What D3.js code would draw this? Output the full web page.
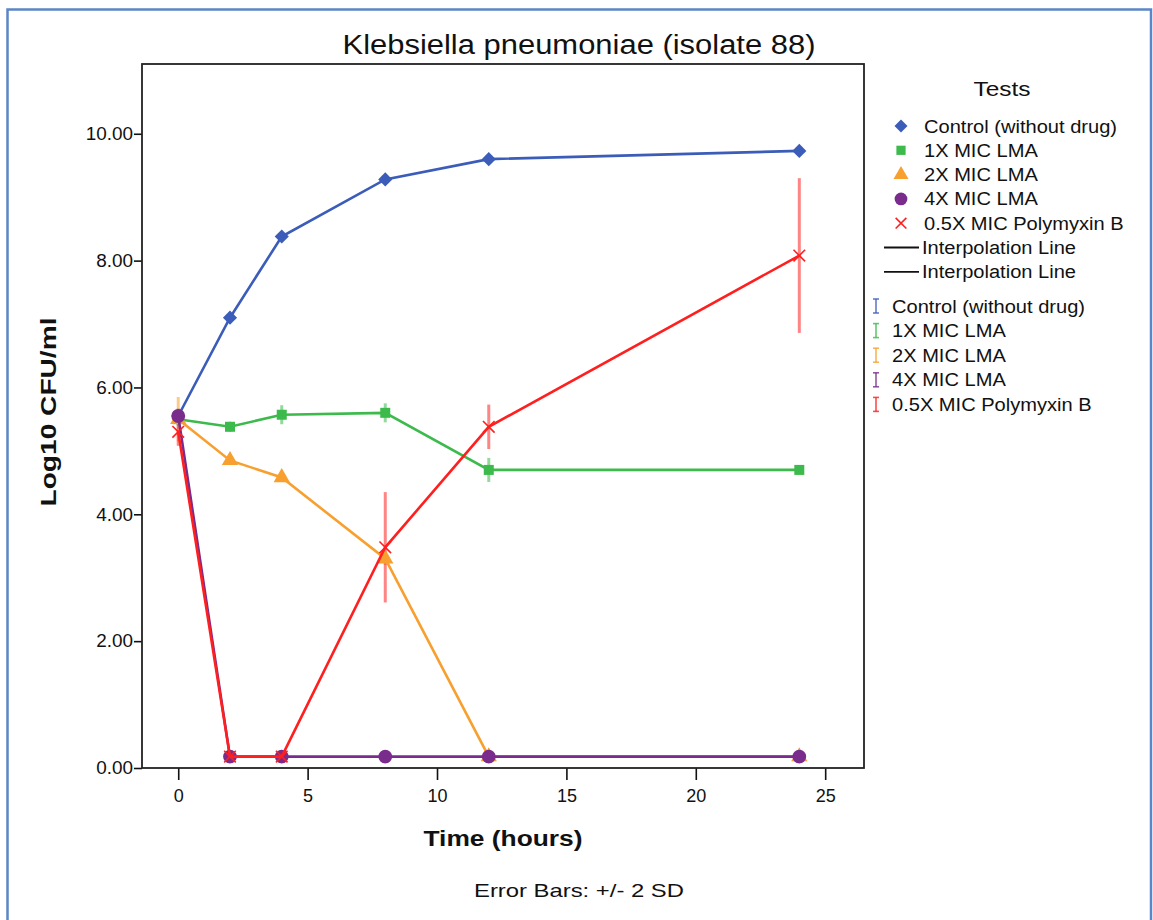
<!DOCTYPE html>
<html>
<head>
<meta charset="utf-8">
<script src="https://cdn.jsdelivr.net/npm/d3@7"></script>
<style>
  body { margin: 0; background: #fff; }
  text { font-family: "Liberation Sans", Arial, sans-serif; fill: #111; }
</style>
</head>
<body>
<div id="chart"></div>
<script>
let w = 1153;
let h = 920;

// hours sampled
let times = [0, 2, 4, 8, 12, 24];

// series names (legend order)
let seriesNames = ["Control (without drug)", "1X MIC LMA", "2X MIC LMA", "4X MIC LMA", "0.5X MIC Polymyxin B"];

// mean log10 CFU/ml per series
let controlVals = [5.55, 7.10, 8.38, 9.28, 9.60, 9.73];
let mic1Vals    = [5.50, 5.38, 5.57, 5.60, 4.70, 4.70];
let mic2Vals    = [5.50, 4.85, 4.58, 3.30, 0.18, 0.18];
let mic4Vals    = [5.55, 0.18, 0.18, 0.18, 0.18, 0.18];
let polyVals    = [5.30, 0.18, 0.18, 3.48, 5.38, 8.08];

// 2 SD half-widths
let controlErr = [0.12, 0.04, 0.04, 0.04, 0.04, 0.04];
let mic1Err    = [0.10, 0.08, 0.15, 0.15, 0.19, 0.05];
let mic2Err    = [0.35, 0.06, 0.06, 0.10, 0.00, 0.00];
let mic4Err    = [0.10, 0.00, 0.00, 0.00, 0.00, 0.00];
let polyErr    = [0.22, 0.00, 0.00, 0.87, 0.35, 1.22];

let yTicks = [0, 2, 4, 6, 8, 10];
let xTicks = [0, 5, 10, 15, 20, 25];

let colors = ["#3b5cb8", "#3cba4b", "#f7a030", "#7a2c8c", "#ff1f1f"];
let shapes = ["diamond", "square", "triangle", "circle", "x"];
let sizes = [100, 100, 115, 150, 90];

let allVals = [controlVals, mic1Vals, mic2Vals, mic4Vals, polyVals];
let allErr = [controlErr, mic1Err, mic2Err, mic4Err, polyErr];

let symbolTypes = {
  diamond: d3.symbolSquare,
  square: d3.symbolSquare,
  triangle: d3.symbolTriangle,
  circle: d3.symbolCircle,
  x: d3.symbolX
};

let series = seriesNames.map(function(name, i){
  return {
    name: name,
    color: colors[i],
    shape: shapes[i],
    size: sizes[i],
    points: times.map(function(t, j){
      return { t: t, v: allVals[i][j], e: allErr[i][j] };
    })
  };
});

// stretch text horizontally to the width it has in the picture
function stretchTo(sel, target){
  sel.each(function(){
    this.setAttribute("textLength", target);
    this.setAttribute("lengthAdjust", "spacingAndGlyphs");
  });
}
function stretchBy(sel, k){
  sel.each(function(){
    let len = this.getComputedTextLength();
    this.setAttribute("textLength", len * k);
    this.setAttribute("lengthAdjust", "spacingAndGlyphs");
  });
}

function drawMarker(g, s, x, y, scale){
  let p = g.append("path")
    .attr("d", d3.symbol().type(symbolTypes[s.shape]).size(s.size * scale))
    .attr("fill", s.shape === "x" ? "none" : s.color)
    .attr("stroke", s.shape === "x" ? s.color : "none")
    .attr("stroke-width", 1.6);
  let rot = s.shape === "diamond" ? " rotate(45)" : "";
  p.attr("transform", "translate(" + x + "," + y + ")" + rot);
  return p;
}

let svg = d3.select("#chart").append("svg")
  .attr("width", w)
  .attr("height", h);

// outer blue border
svg.append("rect")
  .attr("x", 7.5).attr("y", 9.5)
  .attr("width", 1143.5).attr("height", 930)
  .attr("fill", "none")
  .attr("stroke", "#5a86c8")
  .attr("stroke-width", 2.5);

let pLeft = 142, pRight = 864, pTop = 64, pBottom = 768;

let xScale = d3.scaleLinear().domain([-1.4, 26.5]).range([pLeft, pRight]);
let yScale = d3.scaleLinear().domain([0, 11.1]).range([pBottom, pTop]);

// axes
let yAxis = d3.axisLeft(yScale).tickValues(yTicks).tickFormat(d3.format(".2f")).tickSize(8).tickPadding(1);
let xAxis = d3.axisBottom(xScale).tickValues(xTicks).tickSize(12).tickPadding(9);

let gy = svg.append("g").attr("transform", "translate(" + pLeft + ",0)").call(yAxis);
let gx = svg.append("g").attr("transform", "translate(0," + pBottom + ")").call(xAxis);
gy.select(".domain").remove();
gx.select(".domain").remove();
svg.selectAll(".tick line").attr("stroke", "#111").attr("stroke-width", 1.6);
svg.selectAll(".tick text").attr("font-size", 18).attr("fill", "#111")
  .attr("font-family", "'Liberation Sans', Arial, sans-serif");
stretchBy(gy.selectAll(".tick text"), 1.05);

// plot frame
svg.append("rect")
  .attr("x", pLeft).attr("y", pTop)
  .attr("width", pRight - pLeft).attr("height", pBottom - pTop)
  .attr("fill", "none")
  .attr("stroke", "#222")
  .attr("stroke-width", 1.8);

// error bars
series.forEach(function(s){
  svg.append("g").selectAll("line").data(s.points.filter(d => d.e > 0)).enter()
    .append("line")
      .attr("x1", d => xScale(d.t))
      .attr("x2", d => xScale(d.t))
      .attr("y1", d => yScale(d.v + d.e))
      .attr("y2", d => yScale(d.v - d.e))
      .attr("stroke", s.color)
      .attr("stroke-opacity", 0.55)
      .attr("stroke-width", 3);
});

let line = d3.line().x(d => xScale(d.t)).y(d => yScale(d.v));

// lines and markers
series.forEach(function(s){
  svg.append("path")
    .datum(s.points)
    .attr("d", line)
    .attr("fill", "none")
    .attr("stroke", s.color)
    .attr("stroke-width", 2.6);

  let g = svg.append("g");
  s.points.forEach(function(d){
    drawMarker(g, s, xScale(d.t), yScale(d.v), 1);
  });
});

// titles
let title = svg.append("text")
  .attr("x", 579).attr("y", 54)
  .attr("text-anchor", "middle")
  .attr("font-size", 27)
  .text("Klebsiella pneumoniae (isolate 88)");
stretchTo(title, 473);

let xTitle = svg.append("text")
  .attr("x", 503).attr("y", 846)
  .attr("text-anchor", "middle")
  .attr("font-size", 22)
  .attr("font-weight", "bold")
  .text("Time (hours)");
stretchTo(xTitle, 159);

let yTitle = svg.append("text")
  .attr("transform", "translate(56,412) rotate(-90)")
  .attr("text-anchor", "middle")
  .attr("font-size", 22)
  .attr("font-weight", "bold")
  .text("Log10 CFU/ml");
stretchTo(yTitle, 189);

let foot = svg.append("text")
  .attr("x", 579).attr("y", 897)
  .attr("text-anchor", "middle")
  .attr("font-size", 19)
  .text("Error Bars: +/- 2 SD");
stretchTo(foot, 210);

// legend
let leg = svg.append("g");
let legTitle = leg.append("text")
  .attr("x", 1002).attr("y", 96)
  .attr("text-anchor", "middle")
  .attr("font-size", 21)
  .text("Tests");
stretchTo(legTitle, 57);

let rowH = 24.3;
series.forEach(function(s, i){
  let y = 126 + i * rowH;
  drawMarker(leg, s, 901, y, 0.85);
  leg.append("text")
    .attr("class", "legtext")
    .attr("x", 924).attr("y", y + 6.5)
    .attr("font-size", 18)
    .text(s.name);
});

["Interpolation Line", "Interpolation Line"].forEach(function(t, i){
  let y = 126 + (5 + i) * rowH;
  leg.append("line")
    .attr("x1", 884).attr("x2", 919)
    .attr("y1", y).attr("y2", y)
    .attr("stroke", "#111").attr("stroke-width", 1.8);
  leg.append("text")
    .attr("class", "legtext")
    .attr("x", 922).attr("y", y + 6.5)
    .attr("font-size", 18)
    .text(t);
});

series.forEach(function(s, i){
  let y = 306 + i * 24.6;
  let g = leg.append("g").attr("stroke", s.color).attr("stroke-opacity", 0.8).attr("stroke-width", 1.6);
  g.append("line").attr("x1", 876).attr("x2", 876).attr("y1", y - 7).attr("y2", y + 7);
  g.append("line").attr("x1", 873).attr("x2", 879).attr("y1", y - 7).attr("y2", y - 7);
  g.append("line").attr("x1", 873).attr("x2", 879).attr("y1", y + 7).attr("y2", y + 7);
  leg.append("text")
    .attr("class", "legtext")
    .attr("x", 892).attr("y", y + 6.5)
    .attr("font-size", 18)
    .text(s.name);
});

// legend font in the picture is a bit wider than Liberation Sans
let firstLeg = leg.select(".legtext").node().getComputedTextLength();
stretchBy(leg.selectAll(".legtext"), 193 / firstLeg);
</script>
</body>
</html>
